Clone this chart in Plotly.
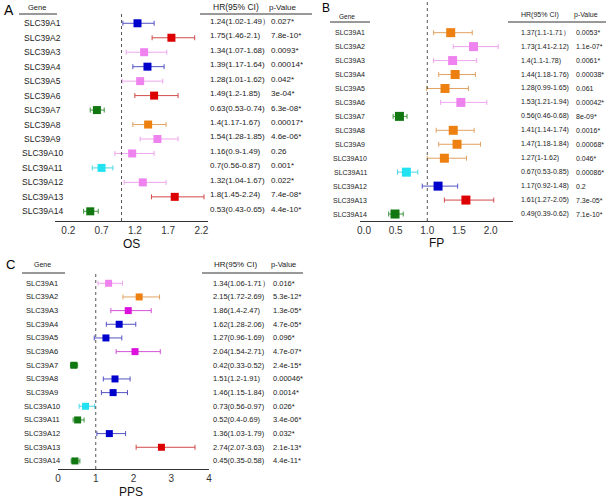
import plotly.graph_objects as go

W, H = 610, 499

GENES = [
    "SLC39A1", "SLC39A2", "SLC39A3", "SLC39A4", "SLC39A5", "SLC39A6", "SLC39A7",
    "SLC39A8", "SLC39A9", "SLC39A10", "SLC39A11", "SLC39A12", "SLC39A13", "SLC39A14",
]

# OS
os_hr = [1.24, 1.75, 1.34, 1.39, 1.28, 1.49, 0.63, 1.4, 1.54, 1.16, 0.7, 1.32, 1.8, 0.53]
os_lo = [1.02, 1.46, 1.07, 1.17, 1.01, 1.2, 0.53, 1.17, 1.28, 0.9, 0.56, 1.04, 1.45, 0.43]
os_hi = [1.49, 2.1, 1.68, 1.64, 1.62, 1.85, 0.74, 1.67, 1.85, 1.49, 0.87, 1.67, 2.24, 0.65]
os_p = ["0.027*", "7.8e-10*", "0.0093*", "0.00014*", "0.042*", "3e-04*", "6.3e-08*",
        "0.00017*", "4.6e-06*", "0.26", "0.001*", "0.022*", "7.4e-08*", "4.4e-10*"]
os_col = ["blue", "red", "violet", "blue", "violet", "red", "green",
          "orange", "violet", "violet", "cyan", "violet", "red", "green"]

# FP
fp_hr = [1.37, 1.73, 1.4, 1.44, 1.28, 1.53, 0.56, 1.41, 1.47, 1.27, 0.67, 1.17, 1.61, 0.49]
fp_lo = [1.1, 1.41, 1.1, 1.18, 0.99, 1.21, 0.46, 1.14, 1.18, 1, 0.53, 0.92, 1.27, 0.39]
fp_hi = [1.71, 2.12, 1.78, 1.76, 1.65, 1.94, 0.68, 1.74, 1.84, 1.62, 0.85, 1.48, 2.05, 0.62]
fp_p = ["0.0053*", "1.1e-07*", "0.0061*", "0.00038*", "0.061", "0.00042*", "8e-09*",
        "0.0016*", "0.00068*", "0.046*", "0.00086*", "0.2", "7.3e-05*", "7.1e-10*"]
fp_col = ["orange", "violet", "violet", "orange", "orange", "violet", "green",
          "orange", "orange", "orange", "cyan", "blue", "red", "green"]

# PPS
pps_hr = [1.34, 2.15, 1.86, 1.62, 1.27, 2.04, 0.42, 1.51, 1.46, 0.73, 0.52, 1.36, 2.74, 0.45]
pps_lo = [1.06, 1.72, 1.4, 1.28, 0.96, 1.54, 0.33, 1.2, 1.15, 0.56, 0.4, 1.03, 2.07, 0.35]
pps_hi = [1.71, 2.69, 2.47, 2.06, 1.69, 2.71, 0.52, 1.91, 1.84, 0.97, 0.69, 1.79, 3.63, 0.58]
pps_p = ["0.016*", "5.3e-12*", "1.3e-05*", "4.7e-05*", "0.096*", "4.7e-07*", "2.4e-15*",
         "0.00046*", "0.0014*", "0.026*", "3.4e-06*", "0.032*", "2.1e-13*", "4.4e-11*"]
pps_col = ["violet", "orange", "magenta", "blue", "blue", "magenta", "green",
           "blue", "blue", "cyan", "green", "blue", "red", "green"]

# (marker, error bar)
COLORS = {
    "blue": ("#0000CC", "#5252C2"),
    "red": ("#DD0000", "#D24A4A"),
    "violet": ("#EE82EE", "#EEA6EE"),
    "orange": ("#EE8012", "#E2A262"),
    "green": ("#117711", "#3F963F"),
    "cyan": ("#22E2F2", "#4AD6E6"),
    "magenta": ("#DD11DD", "#D652D6"),
}

SANS = "Liberation Sans, Arial, sans-serif"


def px(x):
    return x / W


def py(y):
    return 1 - y / H


PANELS = [
    {
        "title": "OS", "ax": "", "hr": os_hr, "lo": os_lo, "hi": os_hi,
        "p": os_p, "col": os_col,
        "xdom": [55, 208], "ydom": [12, 221], "xrange": [0, 2.3], "yrange": [14.67, 0.22],
        "tickvals": [0.2, 0.7, 1.2, 1.7, 2.2], "ticktext": ["0.2", "0.7", "1.2", "1.7", "2.2"],
        "msize": 8, "letter": ("A", 9, 10, 14), "title_xy": (131, 244),
        "gene_x": 42, "gene_head": (37, 7, 7.5), "gene_line": (19, 57, 14),
        "hr_x": 209, "p_x": 270, "hr_head": (236, 7, 8.5), "p_head": (268, 7, 8), "head_line": (200, 312, 14),
        "gsize": 8.5, "tsize": 8, "text_shift": 2,
    },
    {
        "title": "FP", "ax": "2", "hr": fp_hr, "lo": fp_lo, "hi": fp_hi,
        "p": fp_p, "col": fp_col,
        "xdom": [360, 513], "ydom": [1, 221], "xrange": [-0.063, 2.354], "yrange": [14.5, -1.27],
        "tickvals": [0, 0.5, 1, 1.5, 2], "ticktext": ["0.0", "0.5", "1.0", "1.5", "2.0"],
        "msize": 9, "letter": ("B", 326, 8, 12), "title_xy": (436, 243),
        "gene_x": 350, "gene_head": (347, 16, 6.5), "gene_line": (330, 370, 22),
        "hr_x": 520, "p_x": 575, "hr_head": (540, 15, 7), "p_head": (573, 15, 7), "head_line": (508, 606, 22),
        "gsize": 7, "tsize": 7, "text_shift": 0,
    },
    {
        "title": "PPS", "ax": "3", "hr": pps_hr, "lo": pps_lo, "hi": pps_hi,
        "p": pps_p, "col": pps_col,
        "xdom": [58, 209], "ydom": [272, 469], "xrange": [0, 4], "yrange": [14.59, 0.175],
        "tickvals": [0, 1, 2, 3, 4], "ticktext": ["0", "1", "2", "3", "4"],
        "msize": 7, "letter": ("C", 10, 264, 13), "title_xy": (131, 492),
        "gene_x": 42, "gene_head": (42, 264, 7), "gene_line": (22, 65, 273),
        "hr_x": 212, "p_x": 272, "hr_head": (235, 264, 8), "p_head": (270, 264, 7.5), "head_line": (202, 303, 273),
        "gsize": 7.5, "tsize": 7.5, "text_shift": 0,
    },
]


def note(x, y, text, size, xref="paper", yref="paper", xanchor="center", yshift=0, color="#222"):
    return dict(x=x, y=y, xref=xref, yref=yref, text=text, showarrow=False,
                xanchor=xanchor, yanchor="middle", yshift=yshift, borderpad=0,
                font={"family": SANS, "size": size, "color": color})


fig = go.Figure()
annotations = []
shapes = []

for pan in PANELS:
    xa, ya = "x" + pan["ax"], "y" + pan["ax"]
    for i, gene in enumerate(GENES):
        mcol, bcol = COLORS[pan["col"][i]]
        hr, lo, hi = pan["hr"][i], pan["lo"][i], pan["hi"][i]
        fig.add_trace(
            go.Scatter(
                x=[hr], y=[i + 1], mode="markers", xaxis=xa, yaxis=ya,
                marker={"symbol": "square", "size": pan["msize"], "color": mcol},
                error_x={
                    "type": "data", "symmetric": False,
                    "array": [hi - hr], "arrayminus": [hr - lo],
                    "color": bcol, "thickness": 1, "width": 2.5,
                },
                showlegend=False, name=gene,
            )
        )
        close = "）" if i == 0 else ")"
        annotations += [
            note(px(pan["gene_x"]), i + 1, gene, pan["gsize"], yref=ya),
            note(px(pan["hr_x"]), i + 1, f"{hr:g}({lo:g}-{hi:g}{close}", pan["tsize"],
                 yref=ya, xanchor="left", yshift=pan["text_shift"]),
            note(px(pan["p_x"]), i + 1, pan["p"][i], pan["tsize"],
                 yref=ya, xanchor="left", yshift=pan["text_shift"]),
        ]

    letter, lx, ly, ls = pan["letter"]
    gx, gy, gs = pan["gene_head"]
    hx, hy, hs = pan["hr_head"]
    qx, qy, qs = pan["p_head"]
    annotations += [
        note(px(lx), py(ly), letter, ls, color="#000"),
        note(px(pan["title_xy"][0]), py(pan["title_xy"][1]), pan["title"], 12, color="#111"),
        note(px(gx), py(gy), "Gene", gs),
        note(px(hx), py(hy), "HR(95% CI)", hs),
        note(px(qx), py(qy), "p-Value", qs, xanchor="left"),
    ]
    for x0, x1, yy in (pan["gene_line"], pan["head_line"]):
        shapes.append(dict(type="line", xref="paper", yref="paper", x0=px(x0), x1=px(x1),
                           y0=py(yy), y1=py(yy), line={"color": "#333", "width": 1}))
    shapes.append(dict(type="line", xref=xa, yref=ya + " domain", x0=1, x1=1, y0=0, y1=1,
                       line={"color": "#555", "width": 1, "dash": "dot"}))

    fig.update_layout(**{
        "xaxis" + pan["ax"]: dict(
            domain=[px(pan["xdom"][0]), px(pan["xdom"][1])], range=pan["xrange"], anchor=ya,
            showline=True, linecolor="#333", linewidth=1, showgrid=False, zeroline=False,
            ticks="", tickvals=pan["tickvals"], ticktext=pan["ticktext"], automargin=False,
            tickfont={"family": SANS, "size": 10, "color": "#333"},
        ),
        "yaxis" + pan["ax"]: dict(
            domain=[py(pan["ydom"][1]), py(pan["ydom"][0])], range=pan["yrange"], anchor=xa,
            visible=False, showgrid=False, zeroline=False, automargin=False,
        ),
    })

fig.update_layout(
    template="none",
    width=W, height=H, margin={"l": 0, "r": 0, "t": 0, "b": 0},
    paper_bgcolor="white", plot_bgcolor="white",
    annotations=annotations, shapes=shapes, showlegend=False,
)

# drop the page's default body margin so the figure sits at the window's corner
fig.write_html(
    "out.html",
    config={"displayModeBar": False},
    post_script="document.body.style.margin='0';",
)
